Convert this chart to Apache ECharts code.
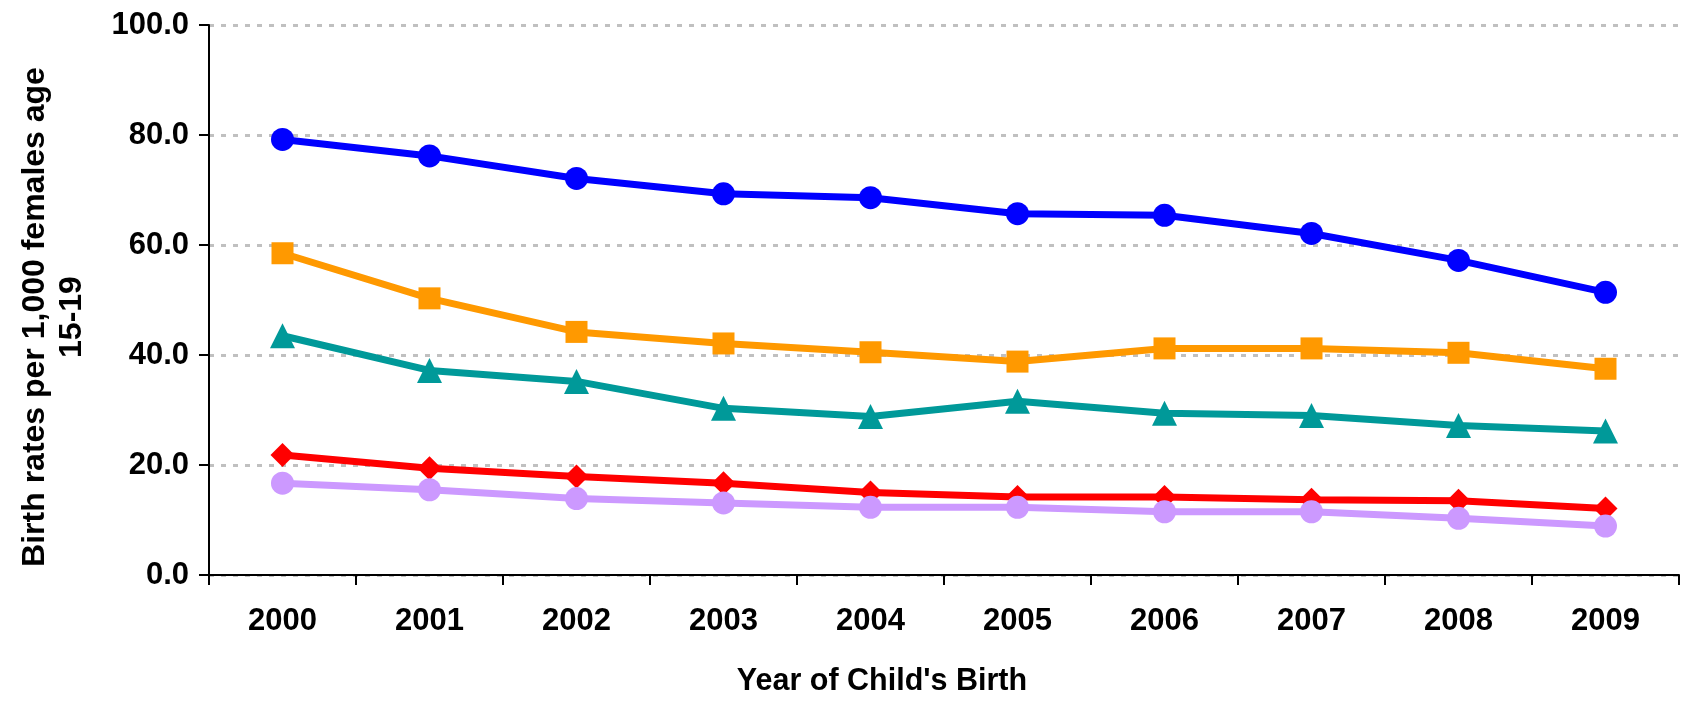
<!DOCTYPE html>
<html>
<head>
<meta charset="utf-8">
<script src="https://cdn.jsdelivr.net/npm/echarts@6/dist/echarts.min.js"></script>
<style>
html,body{margin:0;padding:0;background:#fff;}
#chart{width:1682px;height:702px;}
</style>
</head>
<body>
<div id="chart"></div>
<script>
const years = ['2000','2001','2002','2003','2004','2005','2006','2007','2008','2009'];
const seriesBlue = [79.2, 76.2, 72.1, 69.3, 68.6, 65.7, 65.4, 62.1, 57.2, 51.4];
const seriesOrange = [58.5, 50.3, 44.2, 42.1, 40.5, 38.8, 41.2, 41.2, 40.4, 37.5];
const seriesTeal = [43.5, 37.2, 35.2, 30.3, 28.8, 31.6, 29.4, 29.0, 27.2, 26.2];
const seriesRed = [21.8, 19.4, 17.9, 16.7, 15.0, 14.2, 14.2, 13.7, 13.5, 12.1];
const seriesPurple = [16.7, 15.5, 13.9, 13.1, 12.3, 12.3, 11.5, 11.5, 10.3, 8.9];
const yAxisTitle = 'Birth rates per 1,000 females age\n15-19';
const xAxisTitle = "Year of Child's Birth";

const FONT = '"Liberation Sans", Arial, sans-serif';
function mk(name, data, color, symbol, size) {
  return {
    name: name, type: 'line', data: data,
    symbol: symbol, symbolSize: size,
    lineStyle: { color: color, width: 7 },
    itemStyle: { color: color },
    emphasis: { disabled: true },
    animation: false
  };
}
const chart = echarts.init(document.getElementById('chart'));
chart.setOption({
  backgroundColor: '#ffffff',
  animation: false,
  grid: { left: 209, right: 3, top: 25, bottom: 122 },
  xAxis: {
    type: 'category', data: years, boundaryGap: true,
    name: xAxisTitle, nameLocation: 'middle', nameGap: 91,
    nameTextStyle: { fontFamily: FONT, fontWeight: 'bold', fontSize: 30.5, color: '#000', padding: [0, 124, 0, 0] },
    axisLine: { lineStyle: { color: '#000', width: 2 } },
    axisTick: { show: true, alignWithLabel: false, length: 10, lineStyle: { color: '#000', width: 2 } },
    axisLabel: { margin: 31, fontFamily: FONT, fontWeight: 'bold', fontSize: 31, color: '#000' },
    splitLine: { show: false }
  },
  yAxis: {
    type: 'value', min: 0, max: 100, interval: 20,
    name: yAxisTitle, nameLocation: 'middle', nameGap: 118,
    nameTextStyle: { fontFamily: FONT, fontWeight: 'bold', fontSize: 32, color: '#000', lineHeight: 37, padding: [0, 34, 0, 0] },
    axisLine: { show: true, lineStyle: { color: '#000', width: 2 } },
    axisTick: { show: true, length: 10, lineStyle: { color: '#000', width: 2 } },
    axisLabel: { margin: 20, fontFamily: FONT, fontWeight: 'bold', fontSize: 31, color: '#000',
      formatter: v => v.toFixed(1) },
    splitLine: { show: true, lineStyle: { color: '#c0c0c0', width: 3, type: [5, 7] } }
  },
  series: [
    mk('Series 1', seriesBlue, '#0000ff', 'circle', 23),
    mk('Series 2', seriesOrange, '#ff9900', 'rect', 22),
    mk('Series 3', seriesTeal, '#009999', 'triangle', 25),
    mk('Series 4', seriesRed, '#ff0000', 'diamond', 24),
    mk('Series 5', seriesPurple, '#cc99ff', 'circle', 23)
  ]
});
</script>
</body>
</html>
